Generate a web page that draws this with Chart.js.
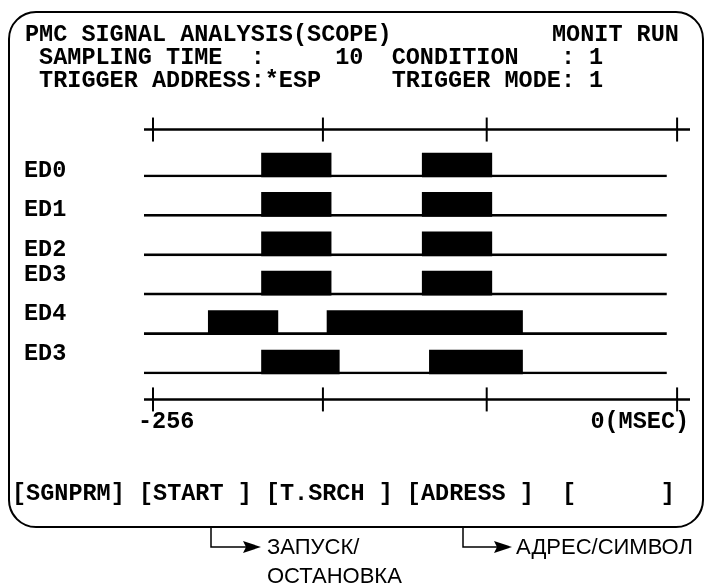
<!DOCTYPE html>
<html>
<head>
<meta charset="utf-8">
<script src="https://cdn.jsdelivr.net/npm/chart.js@4.4.1/dist/chart.umd.min.js"></script>
<style>
html,body{margin:0;padding:0;background:#fff;width:704px;height:585px;overflow:hidden;}
#wrap{position:relative;width:704px;height:585px;}
#frame{position:absolute;left:8px;top:11px;width:696px;height:517px;box-sizing:border-box;border:2px solid #000;border-radius:28px;}
#c{position:absolute;left:0;top:0;}
.t{position:absolute;margin:0;font-family:"Liberation Mono","Courier New",monospace;font-weight:bold;font-size:23.5px;line-height:23.5px;white-space:pre;color:#000;}
.ru{position:absolute;margin:0;font-family:"Liberation Sans",Arial,sans-serif;font-size:22px;line-height:22px;white-space:pre;color:#000;}
svg{position:absolute;left:0;top:0;}
</style>
</head>
<body>
<div id="wrap">
  <div id="frame"></div>
  <canvas id="c" width="704" height="585"></canvas>
  <pre class="t" style="left:25px;top:23px;">PMC SIGNAL ANALYSIS(SCOPE)</pre>
  <pre class="t" style="left:552px;top:23px;">MONIT RUN</pre>
  <pre class="t" style="left:25px;top:46px;"> SAMPLING TIME  :     10  CONDITION   : 1</pre>
  <pre class="t" style="left:25px;top:69px;"> TRIGGER ADDRESS:*ESP     TRIGGER MODE: 1</pre>
  <pre class="t" style="left:12px;top:482px;">[SGNPRM] [START ] [T.SRCH ] [ADRESS ]  [      ]</pre>
  <svg width="704" height="585">
    <polyline points="211,528 211,547 246,547" fill="none" stroke="#000" stroke-width="1.5"/>
    <polygon points="243,541 261,547 243,553 246,547" fill="#000"/>
    <polyline points="463,528 463,547 497,547" fill="none" stroke="#000" stroke-width="1.5"/>
    <polygon points="494,541 512,547 494,553 497,547" fill="#000"/>
  </svg>
  <pre class="ru" style="left:267px;top:536px;">ЗАПУСК/</pre>
  <pre class="ru" style="left:267px;top:565px;">ОСТАНОВКА</pre>
  <pre class="ru" style="left:516px;top:536px;">АДРЕС/СИМВОЛ</pre>
</div>
<script>
// ---- data ----
const rowLabels = ['ED0', 'ED1', 'ED2', 'ED3', 'ED4', 'ED3'];
const pulseA = [[-203, -169], [-203, -169], [-203, -169], [-203, -169], [-229, -195], [-203, -165]];
const pulseB = [[-124.5, -90.5], [-124.5, -90.5], [-124.5, -90.5], [-124.5, -90.5], [-171, -75.5], [-121, -75.5]];
const traceRange = [-260.4, -5];
const tickValues = [-256, -173, -93, 0];
const labelTicks = [-256, 0];
const labelTexts = ['-256', '0(MSEC)'];

// ---- config ----
const X_MIN = -260.4, X_MAX = 6.3;
const Y_MIN = -1.5, Y_MAX = 6.5;
const TOP_AXIS = -0.9, BOTTOM_AXIS = 5.95;
const LOWER_GROUP_START = 3;   // rows whose name sits level with the pulse top
const MONO = '"Liberation Mono","Courier New",monospace';
const FONT = {family: MONO, size: 23.5, weight: 'bold'};

const datasets = [
  {type: 'bar', label: 'trace', indexAxis: 'y', xAxisID: 'x', yAxisID: 'y',
   data: rowLabels.map((_, i) => ({y: i, x: traceRange})),
   backgroundColor: 'rgba(0,0,0,0)', borderColor: '#000',
   borderWidth: {top: 0, right: 0, bottom: 2, left: 0}, borderSkipped: false,
   barThickness: 24, grouped: false},
  {type: 'bar', label: 'pulse 1', indexAxis: 'y', xAxisID: 'x', yAxisID: 'y',
   data: pulseA.map((r, i) => ({y: i, x: r})),
   backgroundColor: '#000', borderWidth: 0, barThickness: 24, grouped: false},
  {type: 'bar', label: 'pulse 2', indexAxis: 'y', xAxisID: 'x', yAxisID: 'y',
   data: pulseB.map((r, i) => ({y: i, x: r})),
   backgroundColor: '#000', borderWidth: 0, barThickness: 24, grouped: false},
  {type: 'line', label: 'top axis', indexAxis: 'x', xAxisID: 'x', yAxisID: 'y',
   data: [{x: X_MIN, y: TOP_AXIS}, {x: X_MAX, y: TOP_AXIS}],
   borderColor: '#000', borderWidth: 2.5, pointRadius: 0, fill: false},
  {type: 'line', label: 'bottom axis', indexAxis: 'x', xAxisID: 'x', yAxisID: 'y',
   data: [{x: X_MIN, y: BOTTOM_AXIS}, {x: X_MAX, y: BOTTOM_AXIS}],
   borderColor: '#000', borderWidth: 2.5, pointRadius: 0, fill: false},
  {type: 'line', label: 'ticks', indexAxis: 'x', xAxisID: 'x', yAxisID: 'y', showLine: false,
   data: tickValues.flatMap(v => [{x: v, y: TOP_AXIS}, {x: v, y: BOTTOM_AXIS}]),
   pointStyle: 'line', pointRotation: 90, pointRadius: 12, pointHoverRadius: 12,
   pointBorderColor: '#000', pointBorderWidth: 2, borderColor: '#000'}
];

function labelAxis(idx, align, offset) {
  return {
    type: 'linear', axis: 'x', min: X_MIN, max: X_MAX, offset: false,
    position: {y: BOTTOM_AXIS},
    grid: {display: false, drawTicks: false}, border: {display: false},
    afterBuildTicks: s => { s.ticks = [{value: labelTicks[idx]}]; },
    ticks: {font: FONT, color: '#000', align: align, labelOffset: offset, padding: 9,
            autoSkip: false, maxRotation: 0,
            callback: v => labelTexts[labelTicks.indexOf(v)]}
  };
}

new Chart(document.getElementById('c'), {
  type: 'bar',
  data: {datasets},
  options: {
    responsive: false, animation: false, events: [],
    indexAxis: 'y',
    layout: {padding: {left: 24, right: 11, top: 105.9, bottom: 163.9}},
    plugins: {legend: {display: false}, tooltip: {enabled: false}, title: {display: false}},
    scales: {
      x: {type: 'linear', axis: 'x', min: X_MIN, max: X_MAX, offset: false, display: false},
      y: {type: 'linear', axis: 'y', min: Y_MIN, max: Y_MAX, reverse: true, offset: false, position: 'left',
          grid: {display: false, drawTicks: false}, border: {display: false},
          afterBuildTicks: s => { s.ticks = rowLabels.map((_, i) => ({value: i})); },
          afterFit: s => { s.width = 120; },
          ticks: {font: FONT, color: '#000', crossAlign: 'far', labelOffset: 6, padding: 0, autoSkip: false,
                  // lower rows: an empty second line lifts the name half a line
                  callback: v => v >= LOWER_GROUP_START ? [rowLabels[v], ''] : rowLabels[v]}},
      xa: labelAxis(0, 'start', -15),
      xb: labelAxis(1, 'end', 12)
    }
  }
});
</script>
</body>
</html>
